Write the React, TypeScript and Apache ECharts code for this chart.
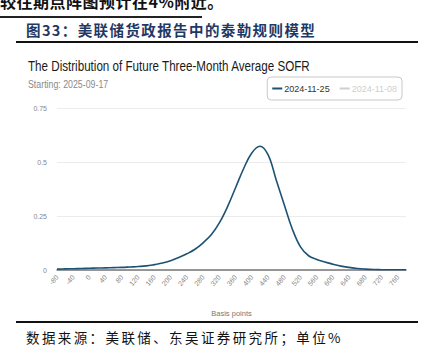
import React, { useEffect, useRef } from "react";
import * as echarts from "echarts";

const bp = [-80, -60, -40, -20, 0, 20, 40, 60, 80, 100, 120, 140, 160, 180, 200, 220, 240, 260, 280, 300, 320, 340, 360, 380, 400, 420, 440, 460, 480, 500, 520, 540, 560, 580, 600, 620, 640, 660, 680, 700, 720, 740, 760, 780];
const prob1125 = [0.004, 0.005, 0.006, 0.007, 0.008, 0.009, 0.010, 0.011, 0.012, 0.014, 0.016, 0.019, 0.025, 0.032, 0.043, 0.058, 0.075, 0.096, 0.126, 0.163, 0.218, 0.292, 0.381, 0.470, 0.542, 0.573, 0.534, 0.418, 0.302, 0.189, 0.107, 0.066, 0.049, 0.037, 0.027, 0.018, 0.012, 0.007, 0.004, 0.002, 0.0015, 0.001, 0.001, 0.001];
const seriesNames = ["2024-11-25", "2024-11-08"];
const yTicks = [0, 0.25, 0.5, 0.75];

const chartTitle = "The Distribution of Future Three-Month Average SOFR";
const chartSub = "Starting: 2025-09-17";
const figTitle = "图33：美联储货政报告中的泰勒规则模型";
const sourceText = "数据来源：美联储、东吴证券研究所；单位%";
const topCut = "较往期点阵图预计在4%附近。";

const SANS = "'Liberation Sans', Arial, sans-serif";
const CJK = "'Noto Sans CJK SC', sans-serif";

export default function App() {
  const ref = useRef<HTMLDivElement>(null);
  useEffect(() => {
    if (!ref.current) return;
    const chart = echarts.init(ref.current, null, { renderer: "svg" });
    chart.setOption({
      animation: false,
      backgroundColor: "transparent",
      graphic: [
        {
          type: "text",
          x: 28,
          y: 58,
          scaleX: 0.75,
          style: { text: chartTitle, fontFamily: SANS, fontSize: 15.5, fill: "#1a1a1a" },
        },
        {
          type: "text",
          x: 28,
          y: 79,
          scaleX: 0.8,
          style: { text: chartSub, fontFamily: SANS, fontSize: 11, fill: "#8a8a8a" },
        },
      ],
      legend: {
        right: 29,
        top: 77,
        data: seriesNames,
        selected: { "2024-11-25": true, "2024-11-08": false },
        borderColor: "#c8c8c8",
        borderWidth: 1,
        borderRadius: 4,
        padding: [7, 5, 7, 5],
        itemGap: 10,
        itemWidth: 10,
        itemHeight: 2,
        icon: "rect",
        inactiveColor: "#cfcfcf",
        textStyle: { fontFamily: SANS, fontSize: 9, color: "#333", padding: [0, 0, 0, -3] },
      },
      grid: { left: 57, right: 25, top: 108, bottom: 89 },
      xAxis: {
        type: "value",
        min: -80,
        max: 780,
        interval: 40,
        name: "Basis points",
        nameLocation: "middle",
        nameGap: 39,
        nameTextStyle: { fontFamily: SANS, fontSize: 7.5, color: "#777777" },
        axisLine: { show: true, onZero: false, lineStyle: { color: "#777", width: 1.5 } },
        axisTick: { show: false },
        splitLine: { show: false },
        axisLabel: {
          rotate: 50,
          fontFamily: SANS,
          fontSize: 7,
          color: "#888",
          margin: 6,
          showMaxLabel: false,
        },
      },
      yAxis: {
        type: "value",
        min: yTicks[0],
        max: yTicks[yTicks.length - 1],
        interval: 0.25,
        axisLine: { show: false },
        axisTick: { show: false },
        splitLine: { lineStyle: { color: "#ececec", width: 1 } },
        axisLabel: { fontFamily: SANS, fontSize: 7, color: "#888", margin: 10 },
      },
      series: [
        {
          name: seriesNames[0],
          type: "line",
          smooth: 0.4,
          showSymbol: false,
          data: bp.map((x, i) => [x, prob1125[i]]),
          lineStyle: { color: "#1d5274", width: 1.6 },
          itemStyle: { color: "#1d5274" },
        },
        {
          name: seriesNames[1],
          type: "line",
          smooth: true,
          showSymbol: false,
          data: [],
          lineStyle: { color: "#bdbdbd", width: 1.6 },
          itemStyle: { color: "#bdbdbd" },
        },
      ],
    });
    return () => chart.dispose();
  }, []);

  return (
    <div style={{ position: "fixed", left: 0, top: 0, width: 431, height: 359, overflow: "hidden", background: "#fff" }}>
      <div style={{ position: "absolute", left: 0, top: -9, fontFamily: CJK, fontWeight: 700, fontSize: 16, lineHeight: "20px", color: "#111", letterSpacing: 0.5, whiteSpace: "nowrap" }}>
        {topCut}
      </div>
      <div style={{ position: "absolute", left: 0, top: 16, width: 202, height: 1.5, background: "#222" }} />
      <div style={{ position: "absolute", left: 26, top: 21, fontFamily: CJK, fontWeight: 700, fontSize: 14.5, lineHeight: "18px", color: "#1f3864", letterSpacing: 1.4, whiteSpace: "nowrap" }}>
        {figTitle}
      </div>
      <div style={{ position: "absolute", left: 16, top: 41, width: 402, height: 2, background: "#111" }} />
      <div ref={ref} style={{ position: "absolute", left: 0, top: 0, width: 431, height: 359 }} />
      <div style={{ position: "absolute", left: 16, top: 321, width: 402, height: 2, background: "#111" }} />
      <div style={{ position: "absolute", left: 26, top: 328, fontFamily: CJK, fontSize: 13.5, lineHeight: "18px", color: "#111", letterSpacing: 2.4, whiteSpace: "nowrap" }}>
        {sourceText}
      </div>
    </div>
  );
}
